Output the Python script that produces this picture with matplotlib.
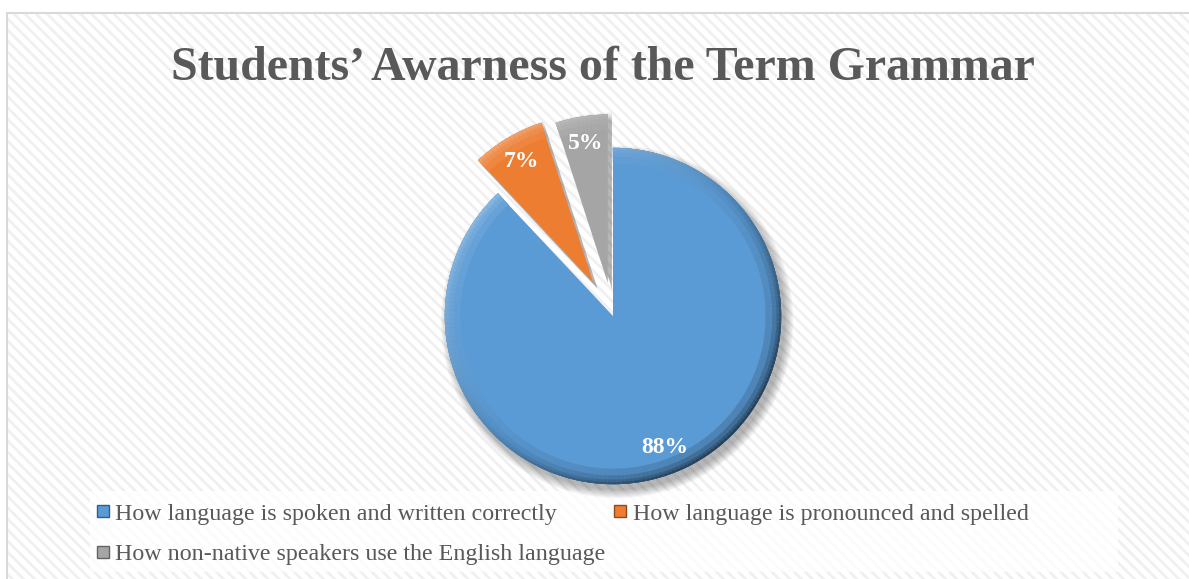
import numpy as np
import matplotlib.pyplot as plt
from matplotlib.patches import Rectangle, Wedge
from matplotlib.lines import Line2D
from matplotlib.colors import to_rgb

title = "Students\u2019 Awarness of the Term Grammar"
labels = ["How language is spoken and written correctly",
          "How language is pronounced and spelled",
          "How non-native speakers use the English language"]
shares = [88, 7, 5]
colors = ["#5B9BD5", "#ED7D31", "#A5A5A5"]
explode = [0, 0.23, 0.2]

W, H = 1189, 579
cx_px, cy_px, r_px = 613, 316, 168
serif = "Liberation Serif"
text_gray = "#595959"

plt.rcParams['hatch.linewidth'] = 2.0
fig = plt.figure(figsize=(W / 100, H / 100), dpi=100)
fig.patch.set_facecolor('white')

# background layer in pixel units (y from top)
bg = fig.add_axes([0, 0, 1, 1], zorder=0)
bg.set_xlim(0, W)
bg.set_ylim(H, 0)
bg.axis('off')
bg.add_patch(Rectangle((7, 13), W + 20, H, facecolor='white',
                       edgecolor='#d9d9d9', lw=1.5))
bg.add_patch(Rectangle((8, 14), W + 20, H, facecolor='none',
                       edgecolor='#f0f0f0', lw=0, hatch='\\\\\\'))
# legend box
bg.add_patch(Rectangle((90, 491), 1028, 81, facecolor=(1, 1, 1, 0.8),
                       edgecolor='none'))
bg.text(603, 80, title, ha='center', va='baseline', fontsize=34.5,
        fontweight='bold', family=serif, color=text_gray)

# pie layer, one data unit = pie radius
ax = fig.add_axes([0, 0, 1, 1], zorder=1)
ax.patch.set_alpha(0)
wedges, texts, autotexts = ax.pie(
    shares, colors=colors, explode=explode, startangle=90,
    counterclock=False, autopct='%d%%', pctdistance=0.84,
    wedgeprops=dict(lw=0, zorder=2),
    textprops=dict(color='white', fontsize=17, fontweight='bold',
                   family=serif))
for t in autotexts:
    t.set_zorder(5)
ax.set_xlim(-cx_px / r_px, (W - cx_px) / r_px)
ax.set_ylim(-(H - cy_px) / r_px, cy_px / r_px)
ax.set_aspect('auto')
ax.axis('off')

# soft drop shadow and shaded rim on each slice
light = np.deg2rad(135)
for w, c in zip(wedges, colors):
    x0, y0 = w.center
    for i in range(8):
        ax.add_patch(Wedge((x0 + 0.025, y0 - 0.035), 1 + 0.007 * i,
                           w.theta1, w.theta2, color='black',
                           alpha=0.04, lw=0, zorder=1))
    base = np.array(to_rgb(c))
    step = 1.5
    for a in np.arange(w.theta1, w.theta2, step):
        b = min(a + step, w.theta2)
        k = np.cos(np.deg2rad((a + b) / 2) - light)
        for width, strength in [(0.09, 0.15), (0.05, 0.3), (0.025, 0.45),
                                (0.01, 0.6)]:
            if k < 0:
                col = base * (1 - strength * (0.25 + 0.75 * -k))
            else:
                col = base * (1 - strength * 0.25 * (1 - k)) + \
                    (1 - base) * strength * 0.5 * k
            col = np.clip(col, 0, 1)
            ax.add_patch(Wedge((x0, y0), 1, a, b, width=width,
                               facecolor=col, edgecolor=col, lw=0.3,
                               zorder=3))

# legend, column-filled so the grey entry sits under the blue one
order = [0, 2, 1]
handles = [Line2D([], [], marker='s', ls='', markersize=8.5,
                  markerfacecolor=colors[i],
                  markeredgecolor=tuple(np.array(to_rgb(colors[i])) * 0.6))
           for i in order]
fig.legend(handles, [labels[i] for i in order], loc='upper left',
           bbox_to_anchor=(96 / W, 1 - 503 / H), ncol=2, frameon=False,
           prop=dict(family=serif, size=17.3), labelcolor=text_gray,
           handlelength=0.55, handletextpad=0.25, columnspacing=0.35,
           labelspacing=0.78, borderaxespad=0, borderpad=0)

fig.savefig('out.png', dpi=100)
